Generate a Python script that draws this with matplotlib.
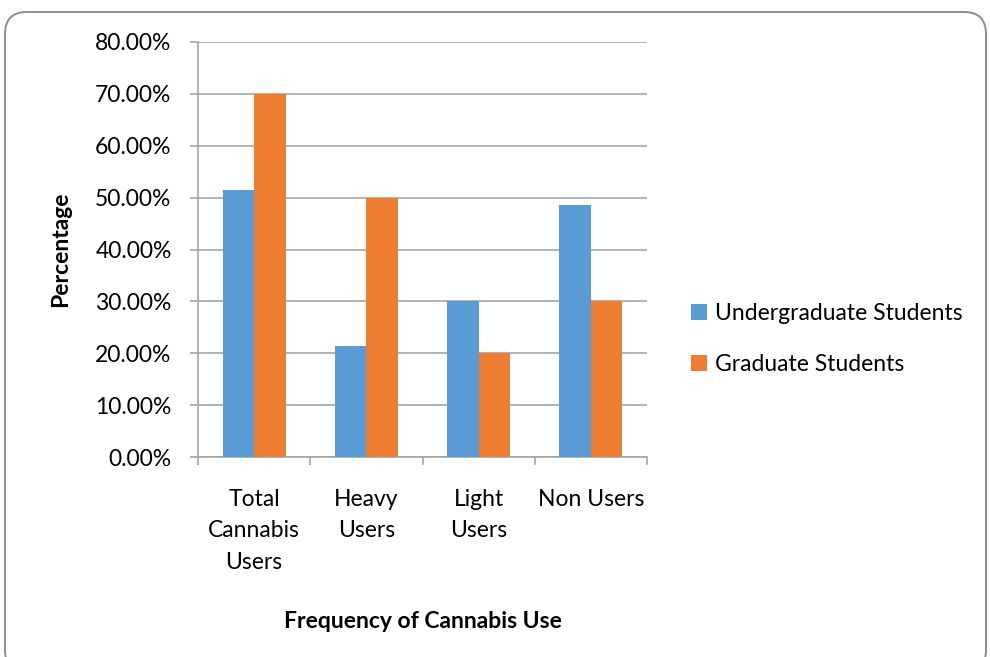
import numpy as np
import matplotlib
matplotlib.use('Agg')
import matplotlib.pyplot as plt
from matplotlib.patches import FancyBboxPatch
from matplotlib.ticker import FuncFormatter

# data
categories = ["Total\nCannabis\nUsers", "Heavy\nUsers", "Light\nUsers", "Non Users"]
undergrad = [51.43, 21.43, 30.00, 48.57]
graduate = [70.00, 50.00, 20.00, 30.00]
series_names = ["Undergraduate Students", "Graduate Students"]
yticks = np.arange(0, 81, 10)

blue = '#5B9BD5'
orange = '#ED7D31'
gridc = '#A6A6A6'
fontsize = 16.5
plt.rcParams['font.family'] = ['Lato', 'DejaVu Sans']

fig = plt.figure(figsize=(9.9, 6.57), dpi=100)
fig.patch.set_facecolor('white')

# rounded outer frame
bg = fig.add_axes([0, 0, 1, 1])
bg.set_xlim(0, 990)
bg.set_ylim(657, 0)
bg.axis('off')
bg.add_patch(FancyBboxPatch((5, 12), 981, 660, boxstyle="round,pad=0,rounding_size=22",
                            facecolor='white', edgecolor='#8C8C8C', linewidth=1.4))

ax = fig.add_axes([198/990, 1-457/657, 449/990, 415/657])
x = np.arange(len(categories))
w = 0.28
ax.bar(x - w/2, undergrad, w, color=blue, label=series_names[0], zorder=3)
ax.bar(x + w/2, graduate, w, color=orange, label=series_names[1], zorder=3)

ax.set_xlim(-0.5, len(categories) - 0.5)
ax.set_ylim(0, 80)
ax.set_yticks(yticks)
ax.yaxis.set_major_formatter(FuncFormatter(lambda v, p: "%.2f%%" % v))
ax.grid(axis='y', color=gridc, linewidth=1.2, zorder=0)

ax.set_xticks(np.arange(len(categories) + 1) - 0.5)
ax.set_xticklabels([])
ax.set_xticks(x, minor=True)
ax.set_xticklabels(categories, minor=True, fontsize=fontsize, linespacing=1.62, va='top')
ax.tick_params(axis='x', which='minor', length=0, pad=23)
ax.tick_params(axis='x', which='major', length=6, color=gridc, width=1.2, direction='out')
ax.tick_params(axis='y', length=6, color=gridc, width=1.2, labelsize=fontsize, pad=13)

for s in ['top', 'right']:
    ax.spines[s].set_visible(False)
for s in ['left', 'bottom']:
    ax.spines[s].set_color(gridc)
    ax.spines[s].set_linewidth(1.2)

ax.set_xlabel("Frequency of Cannabis Use", fontsize=fontsize, fontweight='bold', labelpad=27)
ax.set_ylabel("Percentage", fontsize=fontsize, fontweight='bold', labelpad=17)

fig.legend(*ax.get_legend_handles_labels(), loc='center left',
           bbox_to_anchor=(670/990, 1-339/657), frameon=False, fontsize=fontsize,
           handlelength=0.7, handleheight=0.7, handletextpad=0.35, labelspacing=1.3)

fig.savefig('out.png', dpi=100)
